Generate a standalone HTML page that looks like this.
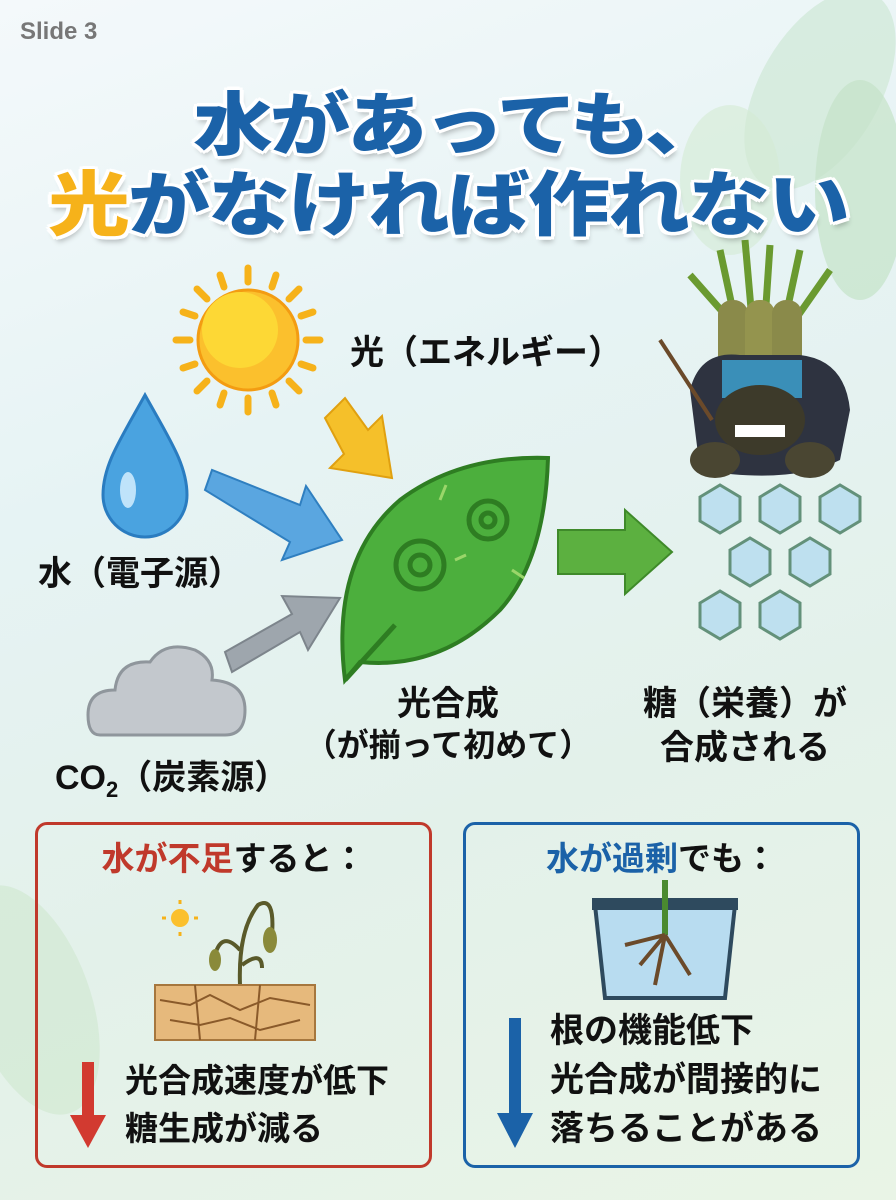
<!DOCTYPE html>
<html><head><meta charset="utf-8">
<style>
*{margin:0;padding:0;box-sizing:border-box}
body{width:896px;height:1200px;overflow:hidden;position:relative;font-family:"Liberation Sans","Noto Sans CJK JP",sans-serif;
background:linear-gradient(160deg,#f4f9fb 0%,#e6f3f4 35%,#e3f1ea 65%,#e9f4e6 100%)}
.a{position:absolute;white-space:nowrap}
.t{font-weight:900;font-size:80px;color:#1b62a8;letter-spacing:-3px;transform:scaleY(0.86);transform-origin:0 0;
text-shadow:0 0 4px #fff,3px 3px 0 #fff,-3px -3px 0 #fff,3px -3px 0 #fff,-3px 3px 0 #fff,0 4px 0 #fff,0 -4px 0 #fff,4px 0 0 #fff,-4px 0 0 #fff,2px 6px 6px rgba(0,0,0,.25)}
.lb{font-weight:700;color:#111;font-size:34px}
.box{position:absolute;background:#fff;border-radius:12px;border:3px solid}
.bt{font-weight:700;font-size:33px;color:#111;line-height:48px}
</style></head><body>
<svg class="a" style="left:0;top:0" width="896" height="1200">
 <ellipse cx="820" cy="90" rx="60" ry="110" fill="#cfe8d6" opacity=".7" transform="rotate(30 820 90)"/>
 <ellipse cx="860" cy="190" rx="45" ry="110" fill="#c4e3c8" opacity=".7"/>
 <ellipse cx="730" cy="180" rx="50" ry="75" fill="#d3ebd3" opacity=".6"/>
 <ellipse cx="30" cy="1000" rx="60" ry="120" fill="#cfe8cf" opacity=".6" transform="rotate(-20 30 1000)"/>
 <g stroke="#f6b21a" stroke-width="7" stroke-linecap="round">
  <line x1="248" y1="268" x2="248" y2="282"/><line x1="248" y1="398" x2="248" y2="412"/>
  <line x1="176" y1="340" x2="190" y2="340"/><line x1="306" y1="340" x2="320" y2="340"/>
  <line x1="197" y1="289" x2="207" y2="299"/><line x1="289" y1="381" x2="299" y2="391"/>
  <line x1="299" y1="289" x2="289" y2="299"/><line x1="207" y1="381" x2="197" y2="391"/>
  <line x1="220" y1="275" x2="224" y2="287"/><line x1="276" y1="275" x2="272" y2="287"/>
  <line x1="220" y1="405" x2="224" y2="393"/><line x1="276" y1="405" x2="272" y2="393"/>
  <line x1="183" y1="312" x2="195" y2="316"/><line x1="313" y1="312" x2="301" y2="316"/>
  <line x1="183" y1="368" x2="195" y2="364"/><line x1="313" y1="368" x2="301" y2="364"/>
 </g>
 <circle cx="248" cy="340" r="50" fill="#fbc02d" stroke="#f39c12" stroke-width="3"/>
 <circle cx="240" cy="330" r="38" fill="#fdd835"/>
 <polygon points="325,418 345,398 368,430 382,416 392,478 330,468 344,454" fill="#f5c02a" stroke="#e0a010" stroke-width="2"/>
 <polygon points="205,490 212,470 300,505 306,486 342,540 282,560 290,542" fill="#5aa6e0" stroke="#2f7fc0" stroke-width="2"/>
 <polygon points="225,652 232,672 300,632 308,650 340,598 282,596 292,614" fill="#9ea6ad" stroke="#7d858c" stroke-width="2"/>
 <polygon points="558,530 625,530 625,510 672,552 625,594 625,574 558,574" fill="#5cb040" stroke="#3f8a2a" stroke-width="2"/>
 <path d="M145,395 C120,440 103,465 103,495 A42,42 0 0 0 187,495 C187,465 170,440 145,395Z" fill="#4aa3e0" stroke="#2a7cc0" stroke-width="3"/>
 <ellipse cx="128" cy="490" rx="8" ry="18" fill="#bfe3fa"/>
 <path d="M100,735 Q88,735 88,715 Q88,690 115,690 Q118,660 150,662 Q165,640 195,650 Q215,660 212,680 Q245,682 245,710 Q245,735 225,735Z" fill="#c3c8cd" stroke="#8f969c" stroke-width="3"/>
 <path d="M345,680 Q330,560 400,500 Q460,455 548,458 Q545,560 500,610 Q440,670 360,662Z" fill="#4caf3d" stroke="#2e7d22" stroke-width="4"/>
 <path d="M345,680 L395,625" stroke="#2e7d22" stroke-width="5"/>
 <g fill="none" stroke="#2e7d22" stroke-width="5">
  <circle cx="420" cy="565" r="24"/><circle cx="420" cy="565" r="10"/>
  <circle cx="488" cy="520" r="19"/><circle cx="488" cy="520" r="7"/>
 </g>
 <g stroke="#9ad66a" stroke-width="3"><line x1="440" y1="500" x2="446" y2="485"/><line x1="512" y1="570" x2="524" y2="578"/><line x1="455" y1="560" x2="466" y2="555"/></g>
 <g fill="#bde0f0" stroke="#5d8c74" stroke-width="3" opacity=".95">
  <polygon points="700,497 720,485 740,497 740,521 720,533 700,521"/>
  <polygon points="760,497 780,485 800,497 800,521 780,533 760,521"/>
  <polygon points="820,497 840,485 860,497 860,521 840,533 820,521"/>
  <polygon points="730,550 750,538 770,550 770,574 750,586 730,574"/>
  <polygon points="790,550 810,538 830,550 830,574 810,586 790,574"/>
  <polygon points="700,603 720,591 740,603 740,627 720,639 700,627"/>
  <polygon points="760,603 780,591 800,603 800,627 780,639 760,627"/>
 </g>
 <g>
  <path d="M720,250 L735,320 M745,240 L752,320 M770,245 L765,320 M800,250 L785,320 M690,275 L728,318 M830,270 L795,320" stroke="#6a9a30" stroke-width="7"/>
  <rect x="718" y="300" width="30" height="70" rx="14" fill="#8a8a4a"/>
  <rect x="745" y="300" width="30" height="70" rx="14" fill="#94944e"/>
  <rect x="772" y="300" width="30" height="70" rx="14" fill="#8a8a4a"/>
  <path d="M690,390 Q700,350 740,355 L800,355 Q845,360 850,410 L840,460 Q790,485 700,470Z" fill="#2e3340"/>
  <rect x="722" y="360" width="80" height="38" fill="#3a8fb8"/>
  <ellipse cx="760" cy="420" rx="45" ry="35" fill="#3d3a2a"/>
  <rect x="735" y="425" width="50" height="12" fill="#fff"/>
  <ellipse cx="715" cy="460" rx="25" ry="18" fill="#4a4632"/><ellipse cx="810" cy="460" rx="25" ry="18" fill="#4a4632"/>
  <line x1="660" y1="340" x2="712" y2="420" stroke="#6b4a2a" stroke-width="4"/>
 </g>
 <circle cx="180" cy="918" r="9" fill="#fbc02d"/>
 <g stroke="#f6b21a" stroke-width="3"><line x1="180" y1="900" x2="180" y2="904"/><line x1="180" y1="932" x2="180" y2="936"/><line x1="162" y1="918" x2="166" y2="918"/><line x1="194" y1="918" x2="198" y2="918"/></g>
 <path d="M240,985 Q238,930 258,905 Q275,895 272,935 M240,950 Q222,930 215,955 M242,965 Q262,950 262,968" stroke="#5a5a2a" stroke-width="4" fill="none"/>
 <ellipse cx="270" cy="940" rx="7" ry="13" fill="#8a8a3a"/><ellipse cx="215" cy="960" rx="6" ry="11" fill="#8a8a3a"/>
 <rect x="155" y="985" width="160" height="55" fill="#e6b97c" stroke="#a6773e" stroke-width="2"/>
 <path d="M160,1000 L190,1005 L210,995 L240,1010 L270,998 L310,1005 M170,1020 L200,1025 L230,1018 L260,1030 L300,1020 M195,985 L200,1040 M260,985 L255,1040" stroke="#8a5a2a" stroke-width="2" fill="none"/>
 <path d="M595,905 L735,905 L725,998 L605,998Z" fill="#b8dcf0" stroke="#2e4a5e" stroke-width="4"/>
 <rect x="592" y="898" width="146" height="12" fill="#2e4a5e"/>
 <line x1="665" y1="880" x2="665" y2="935" stroke="#4a8a30" stroke-width="6"/>
 <path d="M665,935 L640,965 M665,935 L690,975 M665,935 L655,985 M665,935 L625,945" stroke="#6b4a2a" stroke-width="4" fill="none"/>
 <rect x="82" y="1062" width="12" height="58" fill="#d23a30"/>
 <polygon points="70,1115 106,1115 88,1148" fill="#d23a30"/>
 <rect x="509" y="1018" width="12" height="100" fill="#1b62a8"/>
 <polygon points="497,1113 533,1113 515,1148" fill="#1b62a8"/>
</svg>
<div class="box" style="left:35px;top:822px;width:397px;height:346px;border-color:#c0392b;background:transparent"></div>
<div class="box" style="left:463px;top:822px;width:397px;height:346px;border-color:#1b62a8;background:transparent"></div>

<div class="a" style="left:20px;top:18px;font-size:24px;font-weight:700;color:#777">Slide 3</div>
<div class="a t" style="left:193px;top:70px">水があっても、</div>
<div class="a t" style="left:48px;top:148px;font-size:82px;letter-spacing:-2px"><span style="color:#f6b21a">光</span>がなければ作れない</div>

<div class="a lb" style="left:350px;top:325px">光（エネルギー）</div>
<div class="a lb" style="left:38px;top:546px">水（電子源）</div>
<div class="a lb" style="left:55px;top:750px">CO<sub style="font-size:22px">2</sub>（炭素源）</div>
<div class="a lb" style="left:348px;top:676px;width:200px;text-align:center">光合成</div>
<div class="a lb" style="left:298px;top:720px;width:300px;text-align:center;font-size:32px">（が揃って初めて）</div>
<div class="a lb" style="left:630px;top:676px;width:230px;text-align:center">糖（栄養）が</div>
<div class="a lb" style="left:630px;top:720px;width:230px;text-align:center">合成される</div>

<div class="a bt" style="left:35px;top:835px;width:397px;text-align:center"><span style="color:#c0392b">水が不足</span>すると：</div>
<div class="a bt" style="left:463px;top:835px;width:397px;text-align:center"><span style="color:#1b62a8">水が過剰</span>でも：</div>
<div class="a bt" style="left:125px;top:1057px">光合成速度が低下<br>糖生成が減る</div>
<div class="a bt" style="left:550px;top:1007px;font-size:34px;line-height:49px">根の機能低下<br>光合成が間接的に<br>落ちることがある</div>
</body></html>
